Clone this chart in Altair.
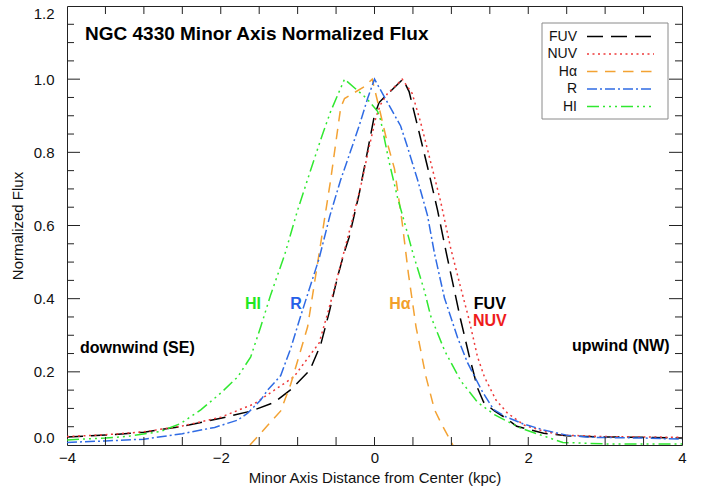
import altair as alt
import pandas as pd

# Minor-axis flux profiles of NGC 4330, each normalized to its own peak.
# Distances in kpc (negative = SE / downwind side).
fuv_x = [-4.0, -3.5, -3.0, -2.5, -2.0, -1.6, -1.3, -1.08, -0.84, -0.7, -0.59, -0.48, -0.39,
         -0.33, -0.2, -0.09, 0.0, 0.06, 0.13, 0.37, 0.45, 0.56, 0.69, 0.82, 0.93, 1.02,
         1.12, 1.23, 1.34, 1.42, 1.56, 1.69, 1.85, 2.2, 2.5, 3.0, 3.5, 4.0]
fuv_y = [0.022, 0.027, 0.035, 0.051, 0.073, 0.093, 0.117, 0.153, 0.205, 0.274, 0.362, 0.46, 0.529,
         0.568, 0.686, 0.804, 0.902, 0.936, 0.951, 1.0, 0.966, 0.872, 0.76, 0.642, 0.529, 0.441,
         0.343, 0.245, 0.156, 0.117, 0.093, 0.076, 0.051, 0.032, 0.025, 0.022, 0.021, 0.019]

nuv_x = [-4.0, -3.5, -3.0, -2.5, -2.0, -1.57, -1.05, -0.72, -0.6, -0.45, -0.31, -0.18, -0.07,
         0.02, 0.08, 0.17, 0.28, 0.36, 0.49, 0.6, 0.73, 0.86, 0.99, 1.12, 1.23, 1.34, 1.43,
         1.58, 1.73, 1.95, 2.21, 2.46, 3.0, 4.0]
nuv_y = [0.023, 0.028, 0.036, 0.052, 0.076, 0.112, 0.186, 0.279, 0.367, 0.485, 0.598, 0.706, 0.814,
         0.897, 0.931, 0.961, 0.983, 1.0, 0.961, 0.882, 0.774, 0.666, 0.539, 0.431, 0.343, 0.241, 0.186,
         0.123, 0.087, 0.054, 0.037, 0.027, 0.023, 0.021]

ha_x = [-1.62, -1.22, -1.09, -0.87, -0.72, -0.57, -0.44, -0.39, -0.13, -0.03, 0.06, 0.17, 0.26,
        0.36, 0.44, 0.54, 0.67, 0.78, 0.86, 1.02]
ha_y = [0.0, 0.093, 0.166, 0.323, 0.524, 0.725, 0.922, 0.947, 0.98, 1.0, 0.922, 0.823, 0.755,
        0.608, 0.47, 0.323, 0.186, 0.097, 0.062, 0.0]

r_x = [-4.0, -3.5, -3.0, -2.5, -2.08, -1.78, -1.65, -1.48, -1.39, -1.22, -1.09, -0.96, -0.72,
       -0.58, -0.44, -0.31, -0.2, -0.09, 0.0, 0.13, 0.34, 0.43, 0.56, 0.69, 0.78, 0.91, 1.08,
       1.21, 1.4, 1.55, 1.7, 1.93, 2.2, 2.5, 2.8, 3.5, 4.0]
r_y = [0.007, 0.011, 0.016, 0.031, 0.048, 0.068, 0.087, 0.123, 0.15, 0.19, 0.264, 0.353, 0.51,
       0.627, 0.725, 0.804, 0.872, 0.947, 1.0, 0.951, 0.872, 0.814, 0.725, 0.627, 0.524, 0.402, 0.294,
       0.225, 0.147, 0.097, 0.078, 0.058, 0.041, 0.027, 0.021, 0.019, 0.016]

hi_x = [-4.0, -3.5, -3.2, -2.78, -2.52, -2.26, -2.0, -1.78, -1.61, -1.48, -1.35, -1.17, -1.0,
        -0.78, -0.67, -0.57, -0.39, -0.1, 0.04, 0.08, 0.19, 0.3, 0.43, 0.5, 0.65, 0.73, 0.91,
        1.12, 1.34, 1.56, 1.9, 2.25, 2.45, 3.0, 4.0]
hi_y = [0.014, 0.019, 0.024, 0.037, 0.059, 0.096, 0.142, 0.186, 0.241, 0.323, 0.411, 0.519, 0.642,
        0.784, 0.853, 0.912, 1.0, 0.947, 0.912, 0.888, 0.774, 0.676, 0.578, 0.524, 0.421, 0.353, 0.259,
        0.176, 0.117, 0.083, 0.046, 0.021, 0.007, 0.003, 0.003]

bands = ["FUV", "NUV", "Hα", "R", "HI"]
band_colors = ["#000000", "#ee3a3a", "#f3a233", "#2f6be4", "#30e830"]
band_dashes = [[16, 8], [2, 3.5], [10.5, 7.5], [10, 3, 2, 3], [12, 4, 2, 4, 2, 4, 2, 4]]

# tick positions for the boxed frame
x_ticks = [-3.5, -3.0, -2.5, -2.0, -1.5, -1.0, -0.5, 0.0, 0.5, 1.0, 1.5, 2.0, 2.5, 3.0, 3.5]
y_major = [0.2, 0.4, 0.6, 0.8, 1.0]
y_minor = [0.05, 0.1, 0.15, 0.25, 0.3, 0.35, 0.45, 0.5, 0.55, 0.65, 0.7, 0.75,
           0.85, 0.9, 0.95, 1.05, 1.1, 1.15]
x_labels = [-4, -2, 0, 2, 4]
y_labels = [0.0, 0.2, 0.4, 0.6, 0.8, 1.0, 1.2]

profiles = [(bands[0], fuv_x, fuv_y), (bands[1], nuv_x, nuv_y), (bands[2], ha_x, ha_y),
            (bands[3], r_x, r_y), (bands[4], hi_x, hi_y)]
rows = []
for name, xs, ys in profiles:
    for i, (a, b) in enumerate(zip(xs, ys)):
        rows.append({"band": name, "x": a, "flux": b, "i": i})
df = pd.DataFrame(rows)

W, H = 615, 439
FONT = "Liberation Sans"
xscale = alt.Scale(domain=[-4, 4], nice=False, zero=False)
yscale = alt.Scale(domain=[0, 1.2], nice=False, zero=False)

lines = alt.Chart(df).mark_line(strokeWidth=1.5, clip=True).encode(
    x=alt.X("x:Q", scale=xscale, axis=alt.Axis(
        values=x_labels, format="d", ticks=False, domain=False, grid=False,
        labelFlush=False, labelOverlap=False, labelFont=FONT, labelFontSize=15,
        labelColor="#111", labelPadding=5,
        title="Minor Axis Distance from Center (kpc)", titleFont=FONT,
        titleFontSize=15, titleFontWeight="normal", titleColor="#111", titlePadding=5)),
    y=alt.Y("flux:Q", scale=yscale, axis=alt.Axis(
        values=y_labels, format=".1f", ticks=False, domain=False, grid=False,
        labelFlush=True, labelOverlap=False, labelFont=FONT, labelFontSize=15,
        labelColor="#111", labelPadding=13,
        title="Normalized Flux", titleFont=FONT, titleFontSize=15,
        titleFontWeight="normal", titleColor="#111", titlePadding=8)),
    color=alt.Color("band:N", scale=alt.Scale(domain=bands, range=band_colors), legend=None),
    strokeDash=alt.StrokeDash("band:N", scale=alt.Scale(domain=bands, range=band_dashes),
                              legend=None),
    order="i:Q",
)

tick_color = "#222"
xt = pd.DataFrame({"x": x_ticks})
ymj = pd.DataFrame({"flux": y_major})
ymn = pd.DataFrame({"flux": y_minor})

ticks = [
    alt.Chart(xt).mark_rule(color=tick_color, strokeWidth=1).encode(
        x=alt.X("x:Q", scale=xscale), y=alt.value(H), y2=alt.value(H - 8)),
    alt.Chart(xt).mark_rule(color=tick_color, strokeWidth=1).encode(
        x=alt.X("x:Q", scale=xscale), y=alt.value(0), y2=alt.value(8)),
    alt.Chart(ymj).mark_rule(color=tick_color, strokeWidth=1).encode(
        y=alt.Y("flux:Q", scale=yscale), x=alt.value(0), x2=alt.value(13)),
    alt.Chart(ymj).mark_rule(color=tick_color, strokeWidth=1).encode(
        y=alt.Y("flux:Q", scale=yscale), x=alt.value(W), x2=alt.value(W - 13)),
    alt.Chart(ymn).mark_rule(color=tick_color, strokeWidth=1).encode(
        y=alt.Y("flux:Q", scale=yscale), x=alt.value(0), x2=alt.value(7)),
    alt.Chart(ymn).mark_rule(color=tick_color, strokeWidth=1).encode(
        y=alt.Y("flux:Q", scale=yscale), x=alt.value(W), x2=alt.value(W - 7)),
]

one = pd.DataFrame({"k": [0]})


def label(txt, x, y, color, align="center", size=16):
    return alt.Chart(one).mark_text(
        text=txt, font=FONT, fontWeight="bold", fontSize=size, color=color,
        align=align, baseline="middle").encode(x=alt.datum(x), y=alt.datum(y))


notes = [
    alt.Chart(one).mark_text(
        text="NGC 4330 Minor Axis Normalized Flux", font=FONT, fontWeight="bold",
        fontSize=19, color="#000", align="left", baseline="middle"
    ).encode(x=alt.value(18), y=alt.value(28)),
    label("downwind (SE)", -3.83, 0.265, "#000", align="left"),
    label("upwind (NW)", 3.84, 0.27, "#000", align="right"),
    label("HI", -1.58, 0.385, "#22e822"),
    label("R", -1.02, 0.385, "#2560e8"),
    label("Hα", 0.33, 0.385, "#f2a02a"),
    label("FUV", 1.5, 0.385, "#000"),
    label("NUV", 1.5, 0.34, "#ee1c1c"),
]

# legend: label on the left, line sample on the right
legend = [alt.Chart(one).mark_rect(fill="white", stroke="#8a8a8a", strokeWidth=1).encode(
    x=alt.value(475), x2=alt.value(601), y=alt.value(17), y2=alt.value(113))]
row_y = [30.5, 48, 65.5, 83, 100.5]
for name, col, dash, ry in zip(bands, band_colors, band_dashes, row_y):
    legend.append(alt.Chart(one).mark_rule(color=col, strokeDash=dash, strokeWidth=1.5).encode(
        x=alt.value(520), x2=alt.value(587), y=alt.value(ry)))
    legend.append(alt.Chart(one).mark_text(
        text=name, font=FONT, fontSize=14, color="#111", align="right", baseline="middle"
    ).encode(x=alt.value(510), y=alt.value(ry)))

chart = alt.layer(lines, *ticks, *notes, *legend).properties(
    width=W, height=H,
    padding={"left": 67, "top": 6, "right": 20, "bottom": 46},
    autosize=alt.AutoSizeParams(type="none"),
    background="white",
).configure_view(stroke="#222", strokeWidth=1)

chart.save("out.html", embed_options={"renderer": "svg", "actions": False})
